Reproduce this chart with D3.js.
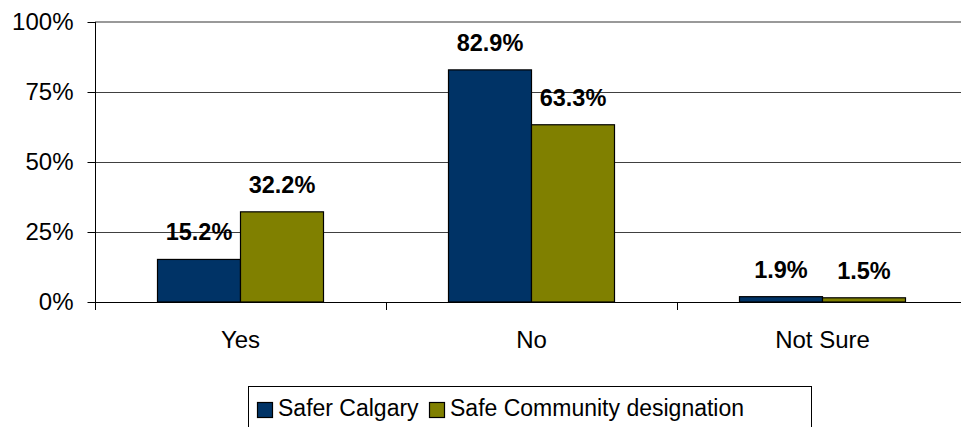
<!DOCTYPE html>
<html>
<head>
<meta charset="utf-8">
<script src="https://cdn.jsdelivr.net/npm/d3@7"></script>
<style>
  html, body { margin: 0; padding: 0; background: #fff; overflow: hidden; }
  svg { display: block; font-family: Arial, "Liberation Sans", sans-serif; }
</style>
</head>
<body>
<svg id="chart" width="961" height="427"></svg>
<script>
const categories = ["Yes", "No", "Not Sure"];
const seriesNames = ["Safer Calgary", "Safe Community designation"];
const saferCalgary = [0.152, 0.829, 0.019];
const safeCommunity = [0.322, 0.633, 0.015];
const seriesColors = ["#003366", "#808000"];
const yTicks = [0, 0.25, 0.5, 0.75, 1];
const yTickLabels = ["0%", "25%", "50%", "75%", "100%"];
const seriesValues = [saferCalgary, safeCommunity];

(function () {
const svg = d3.select("#chart");
const pLeft = 95, pRight = 968, pTop = 22, pBottom = 302;

const x = d3.scaleBand().domain(categories).range([pLeft, pRight]).paddingInner(0).paddingOuter(0);
const xs = d3.scaleBand().domain(seriesNames).range([0, x.bandwidth()]).paddingInner(0).paddingOuter(0.753);
const y = d3.scaleLinear().domain([0, 1]).range([pBottom, pTop]);

// gridlines
svg.append("g").selectAll("line").data(yTicks.filter(t => t > 0 && t < 1)).join("line")
  .attr("x1", pLeft).attr("x2", 961)
  .attr("y1", d => Math.round(y(d)) + 0.5).attr("y2", d => Math.round(y(d)) + 0.5)
  .attr("stroke", "#404040").attr("stroke-width", 1);
// top border (gray)
svg.append("line").attr("x1", pLeft).attr("x2", 961)
  .attr("y1", y(1)).attr("y2", y(1))
  .attr("stroke", "#999").attr("stroke-width", 2);

// bars
const groups = svg.append("g").selectAll("g").data(seriesNames).join("g")
  .attr("fill", (d, i) => seriesColors[i]);
groups.each(function(s, si) {
  d3.select(this).selectAll("rect").data(seriesValues[si]).join("rect")
    .attr("x", (d, i) => x(categories[i]) + xs(s))
    .attr("y", d => y(d))
    .attr("width", xs.bandwidth())
    .attr("height", d => y(0) - y(d))
    .attr("stroke", "#000").attr("stroke-width", 1.2);
});

// y axis
const yAxis = d3.axisLeft(y).tickValues(yTicks)
  .tickFormat((d, i) => yTickLabels[i]).tickSize(8).tickPadding(14);
const gy = svg.append("g").attr("transform", `translate(${pLeft + 0.5},0)`).call(yAxis);
gy.select(".domain").attr("stroke", "#000").attr("d", `M0,${pTop}V${pBottom + 8}`);
gy.selectAll(".tick line").attr("stroke", "#000");
gy.selectAll(".tick text").attr("font-size", 24).attr("fill", "#000")
  .attr("font-family", "Arial, 'Liberation Sans', sans-serif");

// x axis
const xAxis = d3.axisBottom(x).tickSize(0).tickPadding(0);
const gx = svg.append("g").attr("transform", `translate(0,${pBottom + 0.5})`).call(xAxis);
gx.select(".domain").attr("stroke", "#000").attr("d", `M${pLeft},0H961`);
gx.selectAll(".tick text").attr("font-size", 24).attr("fill", "#000")
  .attr("dy", 0).attr("y", 45)
  .attr("font-family", "Arial, 'Liberation Sans', sans-serif");
// category separator ticks
const sepVals = categories.map(c => x(c)).concat([pRight]);
svg.append("g").selectAll("line").data(sepVals).join("line")
  .attr("x1", d => Math.round(d) + 0.5).attr("x2", d => Math.round(d) + 0.5)
  .attr("y1", pBottom).attr("y2", pBottom + 8)
  .attr("stroke", "#000");

// data labels
seriesNames.forEach((s, si) => {
  svg.append("g").selectAll("text").data(seriesValues[si]).join("text")
    .attr("x", (d, i) => x(categories[i]) + xs(s) + xs.bandwidth() / 2)
    .attr("y", d => y(d) - 19)
    .attr("text-anchor", "middle")
    .attr("font-size", 23.5).attr("font-weight", "bold").attr("fill", "#000")
    .text(d => d3.format(".1%")(d));
});

// legend
const lg = svg.append("g");
lg.append("rect").attr("x", 248.5).attr("y", 386.5).attr("width", 563).attr("height", 60)
  .attr("fill", "#fff").attr("stroke", "#000").attr("stroke-width", 1);
const legendX = [257, 429];
seriesNames.forEach((s, i) => {
  lg.append("rect").attr("x", legendX[i] + 0.5).attr("y", 402.5).attr("width", 15).attr("height", 15)
    .attr("fill", seriesColors[i]).attr("stroke", "#000").attr("stroke-width", 1.2);
  lg.append("text").attr("x", legendX[i] + 21).attr("y", 416)
    .attr("font-size", 23).attr("fill", "#000").text(s);
});
})();
</script>
</body>
</html>
